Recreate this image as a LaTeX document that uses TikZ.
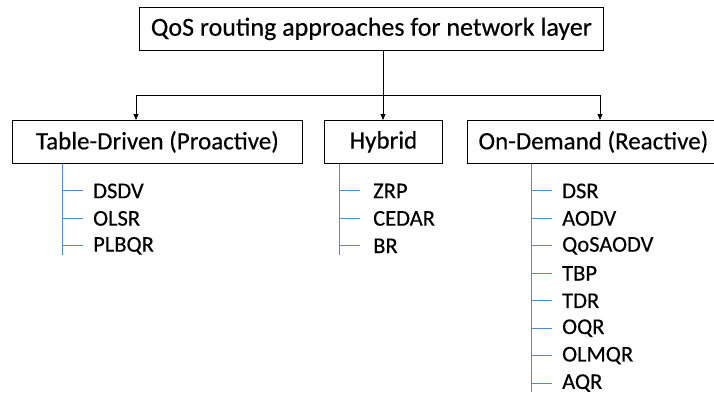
\documentclass[tikz,border=0pt]{standalone}
\usepackage{fontspec}
\setmainfont{Carlito}[FakeBold=0.35]
\usetikzlibrary{arrows.meta}
\begin{document}
\begin{tikzpicture}[x=1pt,y=-1pt,
  box/.style={draw=black,line width=0.8pt,fill=white,minimum height=43pt,inner sep=0pt,anchor=north west,font=\fontsize{25}{28}\selectfont},
  topbox/.style={box,font=\fontsize{26}{29}\selectfont},
  item/.style={anchor=west,inner sep=0pt,font=\fontsize{22.5}{25}\selectfont},
  conn/.style={line width=0.8pt,-{Triangle[length=6pt,width=5pt]}},
  tree/.style={draw={rgb,255:red,80;green,140;blue,210},line width=1pt}]
\useasboundingbox (0,0) rectangle (714,392);
\node[topbox,minimum width=464pt] (top) at (139,7) {QoS routing approaches for network layer};
\node[box,minimum width=290pt] (td) at (12,120) {Table-Driven (Proactive)};
\node[box,minimum width=118pt] (hy) at (324,120) {Hybrid};
\node[box,minimum width=252pt] (od) at (467,120) {On-Demand (Reactive)};
\coordinate (j) at (383,95);
\coordinate (jl) at (136,95);
\coordinate (jr) at (600,95);
\coordinate (tdin) at (136,120);
\coordinate (hyin) at (383,120);
\coordinate (odin) at (600,120);
\draw[line width=0.8pt] (top.south -| j) -- (j);
\draw[line width=0.8pt] (jl) -- (jr);
\draw[conn] (jl) -- (tdin);
\draw[conn] (j) -- (hyin);
\draw[conn] (jr) -- (odin);
% Table-driven
\coordinate (tdend) at (62,255);
\draw[tree] (td.south -| tdend) -- (tdend);
\foreach \t [count=\i] in {DSDV,OLSR,PLBQR}{
  \node[item] (td\i) at (93,{163.5+27.45*\i}) {\t};
  \draw[tree] (tdend |- td\i.west) -- ++(21,0);
}
% Hybrid
\coordinate (hyend) at (339,255);
\draw[tree] (hy.south -| hyend) -- (hyend);
\foreach \t [count=\i] in {ZRP,CEDAR,BR}{
  \node[item] (hy\i) at (373,{163.5+27.45*\i}) {\t};
  \draw[tree] (hyend |- hy\i.west) -- ++(21,0);
}
% On-demand
\coordinate (odend) at (531,392);
\draw[tree] (od.south -| odend) -- (odend);
\foreach \t [count=\i] in {DSR,AODV,QoSAODV,TBP,TDR,OQR,OLMQR,AQR}{
  \node[item] (od\i) at (562,{163.5+27.45*\i}) {\t};
  \draw[tree] (odend |- od\i.west) -- ++(21,0);
}
\end{tikzpicture}
\end{document}
